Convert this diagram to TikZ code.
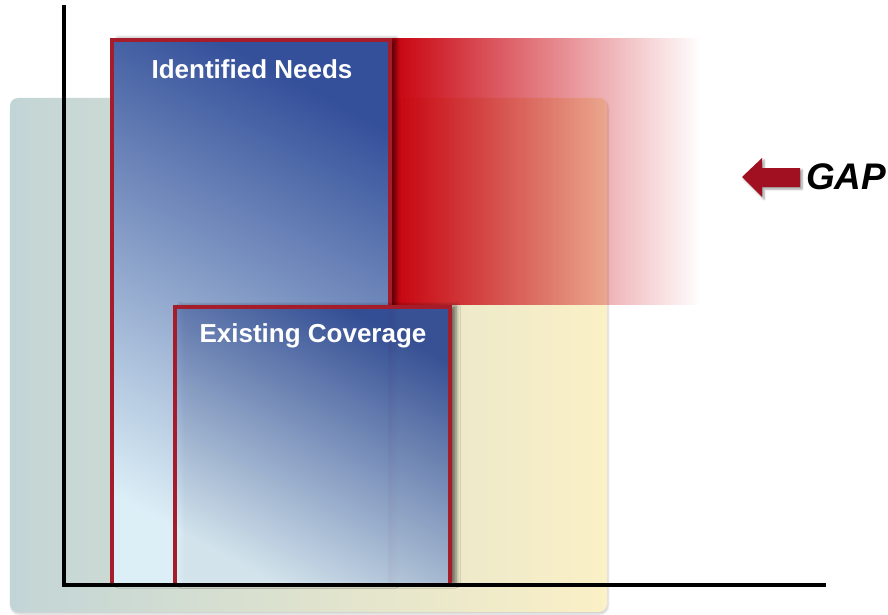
\documentclass[tikz,border=0pt]{standalone}
\usepackage{fontspec}
\setmainfont{Liberation Sans}
\usetikzlibrary{fadings,shadows.blur}
\definecolor{bgleft}{HTML}{C2D5D6}
\definecolor{bgright}{HTML}{FBF0C6}
\definecolor{gapred}{HTML}{C8000C}
\definecolor{boxedge}{HTML}{A51C2A}
\definecolor{boxdark}{HTML}{34509A}
\definecolor{boxlight}{HTML}{DCEEF6}
\definecolor{arrowred}{HTML}{A01020}
\tikzfading[name=gapfade, left color=transparent!0, middle color=transparent!30, right color=transparent!100]
\tikzset{
  needbox/.style={draw=boxedge, line width=4pt, shading=axis,
    top color=boxdark, bottom color=boxlight, shading angle=-28,
    blur shadow={shadow xshift=6pt, shadow yshift=1pt, shadow opacity=55, shadow blur radius=4pt}},
  boxtext/.style={text=white, font=\fontsize{26}{30}\selectfont\bfseries},
  axis/.style={line width=4.5pt}
}
\begin{document}
\begin{tikzpicture}[x=1pt,y=-1pt]
\useasboundingbox (0,0) rectangle (888,615);
% coverage area behind everything
\shade[left color=bgleft, right color=bgright, rounded corners=8pt,
  blur shadow={shadow xshift=1pt, shadow yshift=-2pt, shadow opacity=20}] (10,98) rectangle (607,612);
% the gap
\fill[gapred, path fading=gapfade] (390,38) rectangle (700,305);
% needs and coverage
\path[needbox] (112,40) rectangle (390,585);
\node[boxtext] (needs) at (252,69) {Identified Needs};
\path[needbox, fill opacity=0.92] (175,307) rectangle (450,585);
\node[boxtext] (coverage) at (313,336) {Existing Coverage};
% axes
\draw[axis] (64,5) -- (64,587);
\draw[axis] (62,585) -- (826,585);
% gap marker
\fill[arrowred, blur shadow={shadow xshift=2pt, shadow yshift=-2pt, shadow opacity=40}]
  (742,177) -- (762,158) -- (762,168) -- (800,168) -- (800,187) -- (762,187) -- (762,197) -- cycle;
\node[anchor=west, inner sep=0pt, font=\fontsize{37}{40}\selectfont\bfseries\itshape] (gap) at (806,177) {GAP};
\end{tikzpicture}
\end{document}
